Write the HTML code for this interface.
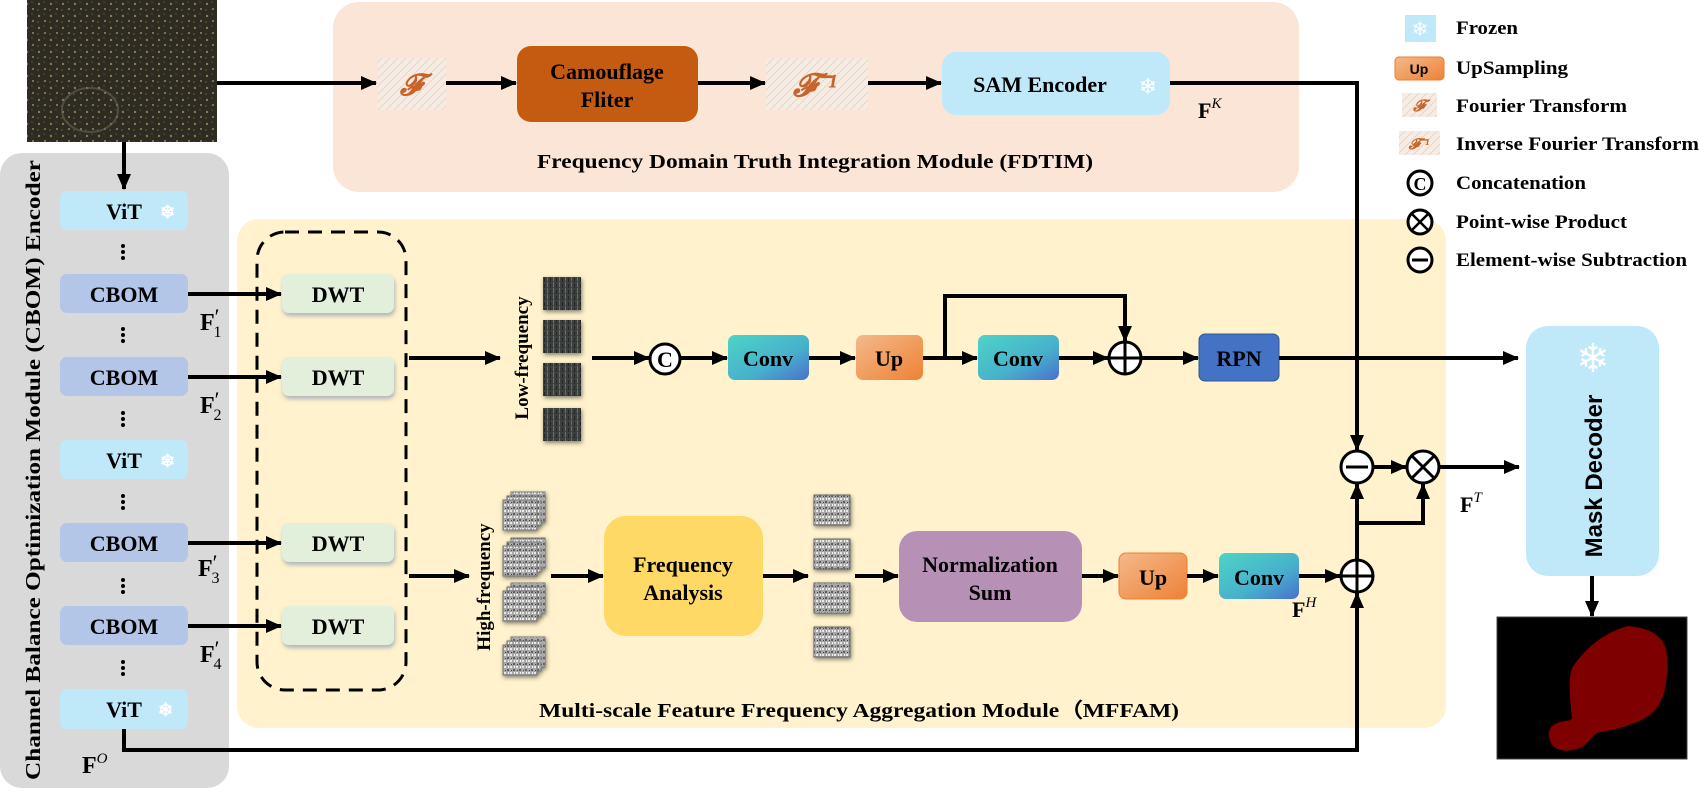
<!DOCTYPE html>
<html><head><meta charset="utf-8"><style>
html,body{margin:0;padding:0;background:#fff;}
svg{display:block;}
text{font-family:"Liberation Serif",serif;font-weight:bold;fill:#000;}
</style></head><body>
<svg width="1700" height="791" viewBox="0 0 1700 791" xmlns="http://www.w3.org/2000/svg">
<defs>
<marker id="ah" markerWidth="16" markerHeight="14" refX="15" refY="7" orient="auto" markerUnits="userSpaceOnUse"><path d="M0,0 L16,7 L0,14 Z" fill="#000"/></marker>
<linearGradient id="gconv" x1="0" y1="0" x2="1" y2="1"><stop offset="0" stop-color="#4dd4c6"/><stop offset="0.6" stop-color="#47b0cc"/><stop offset="1" stop-color="#4a70cc"/></linearGradient>
<linearGradient id="gup" x1="0" y1="0" x2="1" y2="1"><stop offset="0" stop-color="#f4b98a"/><stop offset="1" stop-color="#ee8236"/></linearGradient>
<pattern id="pphoto" width="12" height="12" patternUnits="userSpaceOnUse"><rect width="12" height="12" fill="#2e2b22"/><circle cx="3" cy="4" r="1.2" fill="#8a7a50"/><circle cx="9" cy="9" r="0.9" fill="#b9a66a"/><circle cx="8" cy="2" r="0.7" fill="#5a5540"/><circle cx="2" cy="10" r="0.8" fill="#6b6448"/></pattern>
<pattern id="plow" width="6" height="6" patternUnits="userSpaceOnUse"><rect width="6" height="6" fill="#3b3f3c"/><rect x="1" y="0" width="1" height="5" fill="#6d7060"/><rect x="4" y="2" width="1" height="4" fill="#25282a"/></pattern>
<pattern id="phigh" width="6" height="6" patternUnits="userSpaceOnUse"><rect width="6" height="6" fill="#a8a8a8"/><rect x="0" y="0" width="2" height="2" fill="#e8e8e8"/><rect x="3" y="3" width="2" height="2" fill="#5e5e5e"/><rect x="4" y="0" width="1" height="2" fill="#f2f2f2"/><rect x="1" y="4" width="1" height="1" fill="#444"/></pattern>
<pattern id="ppaper" width="8" height="8" patternUnits="userSpaceOnUse"><rect width="8" height="8" fill="#f6ece4"/><path d="M0,8 L8,0" stroke="#e6d6ca" stroke-width="1"/></pattern>
<filter id="sh" x="-20%" y="-20%" width="140%" height="150%"><feDropShadow dx="1" dy="3" stdDeviation="2" flood-color="#7a8ab0" flood-opacity="0.6"/></filter>
<filter id="sh2" x="-30%" y="-30%" width="160%" height="160%"><feDropShadow dx="1" dy="2" stdDeviation="2" flood-color="#333" flood-opacity="0.6"/></filter>
</defs>

<rect x="333" y="2" width="966" height="190" rx="26" fill="#fbe5d6"/>
<rect x="0" y="153" width="229" height="635" rx="22" fill="#d9d9d9"/>
<rect x="237" y="219" width="1209" height="509" rx="22" fill="#fff2cc"/>

<rect x="27" y="0" width="190" height="142" fill="url(#pphoto)"/>
<ellipse cx="90" cy="110" rx="28" ry="22" fill="none" stroke="#6a6550" stroke-width="2" opacity="0.6"/>

<line x1="217" y1="83" x2="376" y2="83" stroke="#000" stroke-width="4" marker-end="url(#ah)"/>
<rect x="377" y="58" width="69" height="52" fill="url(#ppaper)"/>
<text x="411" y="95" font-size="30" text-anchor="middle" style="fill:#c8642a;font-style:italic">𝓕</text>
<line x1="446" y1="83" x2="516" y2="83" stroke="#000" stroke-width="4" marker-end="url(#ah)"/>
<rect x="517" y="46" width="181" height="76" rx="14" fill="#c55a11"/>
<text x="607" y="79" font-size="22" text-anchor="middle">Camouflage</text>
<text x="607" y="107" font-size="22" text-anchor="middle">Fliter</text>
<line x1="698" y1="83" x2="765" y2="83" stroke="#000" stroke-width="4" marker-end="url(#ah)"/>
<rect x="766" y="58" width="102" height="52" fill="url(#ppaper)"/>
<text x="815" y="96" font-size="32" text-anchor="middle" style="fill:#c8642a;font-style:italic">𝓕⁻¹</text>
<line x1="868" y1="83" x2="941" y2="83" stroke="#000" stroke-width="4" marker-end="url(#ah)"/>
<rect x="942" y="52" width="228" height="63" rx="14" fill="#bfe9f9"/>
<text x="1040" y="92" font-size="22" text-anchor="middle">SAM Encoder</text>
<text x="1148" y="94" font-size="22" text-anchor="middle" style="fill:#fff;font-family:'DejaVu Sans',sans-serif;font-weight:normal">❄</text>
<text x="1198" y="118" font-size="22">F<tspan font-size="15" dy="-10" font-style="italic" font-weight="normal">K</tspan></text>
<text x="815" y="168" font-size="20" text-anchor="middle" textLength="556" lengthAdjust="spacingAndGlyphs">Frequency Domain Truth Integration Module (FDTIM)</text>

<polyline points="1170,83 1357,83 1357,450" fill="none" stroke="#000" stroke-width="4" marker-end="url(#ah)"/>

<line x1="124" y1="142" x2="124" y2="189" stroke="#000" stroke-width="4" marker-end="url(#ah)"/>
<text transform="translate(40,470) rotate(-90)" font-size="21" text-anchor="middle" textLength="620" lengthAdjust="spacingAndGlyphs">Channel Balance Optimization Module (CBOM) Encoder</text>
<g font-size="22">
<rect x="60" y="191" width="128" height="39" rx="7" fill="#bfe9f9"/>
<text x="124" y="219" text-anchor="middle">ViT</text>
<rect x="60" y="274" width="128" height="39" rx="7" fill="#b4c6e7"/>
<text x="124" y="302" text-anchor="middle">CBOM</text>
<rect x="60" y="357" width="128" height="39" rx="7" fill="#b4c6e7"/>
<text x="124" y="385" text-anchor="middle">CBOM</text>
<rect x="60" y="440" width="128" height="39" rx="7" fill="#bfe9f9"/>
<text x="124" y="468" text-anchor="middle">ViT</text>
<rect x="60" y="523" width="128" height="39" rx="7" fill="#b4c6e7"/>
<text x="124" y="551" text-anchor="middle">CBOM</text>
<rect x="60" y="606" width="128" height="39" rx="7" fill="#b4c6e7"/>
<text x="124" y="634" text-anchor="middle">CBOM</text>
<rect x="60" y="689" width="128" height="40" rx="7" fill="#bfe9f9"/>
<text x="124" y="717" text-anchor="middle">ViT</text>
</g>
<g font-size="18" style="fill:#fff;font-family:'DejaVu Sans',sans-serif;font-weight:normal">
<text x="160" y="218" style="fill:#fff">❄</text><text x="160" y="467" style="fill:#fff">❄</text><text x="158" y="716" style="fill:#fff">❄</text>
</g>
<g fill="#000">
<circle cx="123" cy="246" r="2"/><circle cx="123" cy="252" r="2"/><circle cx="123" cy="258" r="2"/>
<circle cx="123" cy="329" r="2"/><circle cx="123" cy="335" r="2"/><circle cx="123" cy="341" r="2"/>
<circle cx="123" cy="413" r="2"/><circle cx="123" cy="419" r="2"/><circle cx="123" cy="425" r="2"/>
<circle cx="123" cy="496" r="2"/><circle cx="123" cy="502" r="2"/><circle cx="123" cy="508" r="2"/>
<circle cx="123" cy="580" r="2"/><circle cx="123" cy="586" r="2"/><circle cx="123" cy="592" r="2"/>
<circle cx="123" cy="662" r="2"/><circle cx="123" cy="668" r="2"/><circle cx="123" cy="674" r="2"/>
</g>
<g font-size="24">
<text x="200" y="330">F<tspan font-weight="normal" font-size="22" dy="-6">′</tspan><tspan font-size="16" font-weight="normal" dx="-6" dy="13">1</tspan></text>
<text x="200" y="413">F<tspan font-weight="normal" font-size="22" dy="-6">′</tspan><tspan font-size="16" font-weight="normal" dx="-6" dy="13">2</tspan></text>
<text x="198" y="576">F<tspan font-weight="normal" font-size="22" dy="-6">′</tspan><tspan font-size="16" font-weight="normal" dx="-6" dy="13">3</tspan></text>
<text x="200" y="662">F<tspan font-weight="normal" font-size="22" dy="-6">′</tspan><tspan font-size="16" font-weight="normal" dx="-6" dy="13">4</tspan></text>
<text x="82" y="773">F<tspan font-size="15" dy="-10" font-style="italic" font-weight="normal">O</tspan></text>
</g>

<g stroke="#000" stroke-width="4" marker-end="url(#ah)">
<line x1="188" y1="294" x2="281" y2="294"/>
<line x1="188" y1="377" x2="281" y2="377"/>
<line x1="188" y1="543" x2="281" y2="543"/>
<line x1="188" y1="626" x2="281" y2="626"/>
</g>
<rect x="257" y="232" width="149" height="458" rx="28" fill="none" stroke="#000" stroke-width="3" stroke-dasharray="14,9"/>
<g font-size="22" filter="url(#sh)">
<rect x="282" y="274" width="112" height="39" rx="7" fill="#e2efda"/>
<rect x="282" y="357" width="112" height="39" rx="7" fill="#e2efda"/>
<rect x="282" y="523" width="112" height="39" rx="7" fill="#e2efda"/>
<rect x="282" y="606" width="112" height="39" rx="7" fill="#e2efda"/>
</g>
<g font-size="22">
<text x="338" y="302" text-anchor="middle">DWT</text>
<text x="338" y="385" text-anchor="middle">DWT</text>
<text x="338" y="551" text-anchor="middle">DWT</text>
<text x="338" y="634" text-anchor="middle">DWT</text>
</g>

<line x1="409" y1="358" x2="500" y2="358" stroke="#000" stroke-width="4" marker-end="url(#ah)"/>
<text transform="translate(528,358) rotate(-90)" font-size="19" text-anchor="middle">Low-frequency</text>
<g filter="url(#sh2)">
<rect x="543" y="277" width="38" height="33" fill="url(#plow)"/>
<rect x="543" y="320" width="38" height="33" fill="url(#plow)"/>
<rect x="543" y="363" width="38" height="33" fill="url(#plow)"/>
<rect x="543" y="408" width="38" height="33" fill="url(#plow)"/>
</g>
<line x1="592" y1="358" x2="649" y2="358" stroke="#000" stroke-width="4" marker-end="url(#ah)"/>
<circle cx="665" cy="359" r="15" fill="#fff" stroke="#000" stroke-width="3"/>
<text x="665" y="367" font-size="22" text-anchor="middle">C</text>
<line x1="680" y1="358" x2="727" y2="358" stroke="#000" stroke-width="4" marker-end="url(#ah)"/>
<rect x="728" y="335" width="81" height="45" rx="7" fill="url(#gconv)"/>
<text x="768" y="366" font-size="22" text-anchor="middle">Conv</text>
<line x1="809" y1="358" x2="855" y2="358" stroke="#000" stroke-width="4" marker-end="url(#ah)"/>
<rect x="856" y="335" width="67" height="45" rx="7" fill="url(#gup)"/>
<text x="889" y="366" font-size="22" text-anchor="middle">Up</text>
<line x1="923" y1="358" x2="977" y2="358" stroke="#000" stroke-width="4" marker-end="url(#ah)"/>
<polyline points="945,358 945,296 1125,296 1125,341" fill="none" stroke="#000" stroke-width="4" marker-end="url(#ah)"/>
<rect x="978" y="335" width="81" height="45" rx="7" fill="url(#gconv)"/>
<text x="1018" y="366" font-size="22" text-anchor="middle">Conv</text>
<line x1="1059" y1="358" x2="1108" y2="358" stroke="#000" stroke-width="4" marker-end="url(#ah)"/>
<circle cx="1125" cy="358" r="16" fill="#fff" stroke="#000" stroke-width="3"/>
<path d="M1109,358 H1141 M1125,342 V374" stroke="#000" stroke-width="3"/>
<line x1="1141" y1="358" x2="1198" y2="358" stroke="#000" stroke-width="4" marker-end="url(#ah)"/>
<rect x="1199" y="334" width="80" height="47" rx="6" fill="#4472c4" stroke="#2f5597" stroke-width="1"/>
<text x="1239" y="366" font-size="22" text-anchor="middle">RPN</text>
<line x1="1279" y1="358" x2="1518" y2="358" stroke="#000" stroke-width="4" marker-end="url(#ah)"/>

<line x1="409" y1="576" x2="469" y2="576" stroke="#000" stroke-width="4" marker-end="url(#ah)"/>
<text transform="translate(490,587) rotate(-90)" font-size="19" text-anchor="middle">High-frequency</text>
<g filter="url(#sh2)">
<rect x="511" y="492" width="34" height="30" fill="url(#phigh)" stroke="#777"/>
<rect x="507" y="496" width="34" height="30" fill="url(#phigh)" stroke="#777"/>
<rect x="503" y="500" width="34" height="30" fill="url(#phigh)" stroke="#777"/>
<rect x="511" y="538" width="34" height="30" fill="url(#phigh)" stroke="#777"/>
<rect x="507" y="542" width="34" height="30" fill="url(#phigh)" stroke="#777"/>
<rect x="503" y="546" width="34" height="30" fill="url(#phigh)" stroke="#777"/>
<rect x="511" y="583" width="34" height="30" fill="url(#phigh)" stroke="#777"/>
<rect x="507" y="587" width="34" height="30" fill="url(#phigh)" stroke="#777"/>
<rect x="503" y="591" width="34" height="30" fill="url(#phigh)" stroke="#777"/>
<rect x="511" y="637" width="34" height="30" fill="url(#phigh)" stroke="#777"/>
<rect x="507" y="641" width="34" height="30" fill="url(#phigh)" stroke="#777"/>
<rect x="503" y="645" width="34" height="30" fill="url(#phigh)" stroke="#777"/>
</g>
<line x1="551" y1="576" x2="603" y2="576" stroke="#000" stroke-width="4" marker-end="url(#ah)"/>
<rect x="604" y="516" width="159" height="120" rx="22" fill="#ffd966"/>
<text x="683" y="572" font-size="22" text-anchor="middle">Frequency</text>
<text x="683" y="600" font-size="22" text-anchor="middle">Analysis</text>
<line x1="763" y1="576" x2="808" y2="576" stroke="#000" stroke-width="4" marker-end="url(#ah)"/>
<g filter="url(#sh2)">
<rect x="814" y="495" width="36" height="30" fill="url(#phigh)" stroke="#666"/>
<rect x="814" y="539" width="36" height="30" fill="url(#phigh)" stroke="#666"/>
<rect x="814" y="583" width="36" height="30" fill="url(#phigh)" stroke="#666"/>
<rect x="814" y="627" width="36" height="30" fill="url(#phigh)" stroke="#666"/>
</g>
<line x1="855" y1="576" x2="898" y2="576" stroke="#000" stroke-width="4" marker-end="url(#ah)"/>
<rect x="899" y="531" width="183" height="91" rx="18" fill="#b790b6"/>
<text x="990" y="572" font-size="22" text-anchor="middle">Normalization</text>
<text x="990" y="600" font-size="22" text-anchor="middle">Sum</text>
<line x1="1082" y1="576" x2="1118" y2="576" stroke="#000" stroke-width="4" marker-end="url(#ah)"/>
<rect x="1119" y="553" width="68" height="46" rx="7" fill="url(#gup)" stroke="#ed7d31" stroke-width="1"/>
<text x="1153" y="585" font-size="22" text-anchor="middle">Up</text>
<line x1="1187" y1="576" x2="1218" y2="576" stroke="#000" stroke-width="4" marker-end="url(#ah)"/>
<rect x="1219" y="553" width="80" height="46" rx="7" fill="url(#gconv)"/>
<text x="1259" y="585" font-size="22" text-anchor="middle">Conv</text>
<line x1="1299" y1="576" x2="1340" y2="576" stroke="#000" stroke-width="4" marker-end="url(#ah)"/>
<text x="1292" y="617" font-size="22">F<tspan font-size="15" dy="-10" font-style="italic" font-weight="normal">H</tspan></text>
<text x="859" y="717" font-size="20" text-anchor="middle" textLength="640" lengthAdjust="spacingAndGlyphs">Multi-scale Feature Frequency Aggregation Module（MFFAM)</text>

<polyline points="124,729 124,750 1357,750 1357,593" fill="none" stroke="#000" stroke-width="4" marker-end="url(#ah)"/>

<line x1="1357" y1="560" x2="1357" y2="484" stroke="#000" stroke-width="4" marker-end="url(#ah)"/>
<polyline points="1357,523 1423,523 1423,484" fill="none" stroke="#000" stroke-width="4" marker-end="url(#ah)"/>
<circle cx="1357" cy="576" r="16" fill="#fff" stroke="#000" stroke-width="3"/>
<path d="M1341,576 H1373 M1357,560 V592" stroke="#000" stroke-width="3"/>
<circle cx="1357" cy="467" r="16" fill="#fff" stroke="#000" stroke-width="3"/>
<path d="M1346,467 H1368" stroke="#000" stroke-width="3"/>
<line x1="1373" y1="467" x2="1406" y2="467" stroke="#000" stroke-width="4" marker-end="url(#ah)"/>
<circle cx="1423" cy="467" r="16" fill="#fff" stroke="#000" stroke-width="3"/>
<path d="M1412,456 L1434,478 M1434,456 L1412,478" stroke="#000" stroke-width="3"/>
<line x1="1439" y1="467" x2="1519" y2="467" stroke="#000" stroke-width="4" marker-end="url(#ah)"/>
<text x="1460" y="512" font-size="22">F<tspan font-size="15" dy="-10" font-style="italic" font-weight="normal">T</tspan></text>

<rect x="1526" y="326" width="133" height="250" rx="22" fill="#bfe9f9"/>
<text x="1593" y="372" font-size="40" text-anchor="middle" style="fill:#fff;font-family:'DejaVu Sans',sans-serif;font-weight:normal">❄</text>
<text transform="translate(1602,476) rotate(-90)" font-size="24" text-anchor="middle" style="font-family:'Liberation Sans',sans-serif;font-weight:bold">Mask Decoder</text>
<line x1="1592" y1="576" x2="1592" y2="616" stroke="#000" stroke-width="4" marker-end="url(#ah)"/>
<rect x="1497" y="617" width="190" height="142" fill="#000" stroke="#444" stroke-width="1"/>
<path d="M1628,626 C1650,628 1668,636 1667,660 C1668,690 1662,705 1650,715 C1635,725 1615,730 1600,732 C1592,734 1588,745 1580,748 C1570,752 1558,752 1552,745 C1546,735 1548,725 1560,722 C1566,720 1570,722 1572,718 C1570,700 1568,680 1572,668 C1585,648 1605,632 1628,626 Z" fill="#7f0000"/>

<rect x="1405" y="15" width="31" height="27" fill="#bfe9f9"/>
<text x="1420" y="36" font-size="20" text-anchor="middle" style="fill:#fff;font-family:'DejaVu Sans',sans-serif;font-weight:normal">❄</text>
<rect x="1395" y="57" width="49" height="23" rx="4" fill="url(#gup)" stroke="#ed7d31"/>
<text x="1419" y="74" font-size="14" text-anchor="middle" style="font-family:'Liberation Sans',sans-serif">Up</text>
<rect x="1402" y="93" width="35" height="24" fill="url(#ppaper)"/>
<text x="1419" y="111" font-size="16" text-anchor="middle" style="fill:#c8642a;font-style:italic">𝓕</text>
<rect x="1399" y="131" width="41" height="24" fill="url(#ppaper)"/>
<text x="1419" y="149" font-size="15" text-anchor="middle" style="fill:#c8642a;font-style:italic">𝓕⁻¹</text>
<circle cx="1420" cy="183" r="12" fill="#fff" stroke="#000" stroke-width="3"/>
<text x="1420" y="190" font-size="18" text-anchor="middle">C</text>
<circle cx="1420" cy="222" r="12" fill="#fff" stroke="#000" stroke-width="3"/>
<path d="M1412,214 L1428,230 M1428,214 L1412,230" stroke="#000" stroke-width="2.5"/>
<circle cx="1420" cy="260" r="12" fill="#fff" stroke="#000" stroke-width="3"/>
<path d="M1412,260 H1428" stroke="#000" stroke-width="3"/>
<g font-size="19">
<text x="1456" y="34" textLength="62" lengthAdjust="spacingAndGlyphs">Frozen</text>
<text x="1456" y="74" textLength="112" lengthAdjust="spacingAndGlyphs">UpSampling</text>
<text x="1456" y="112" textLength="171" lengthAdjust="spacingAndGlyphs">Fourier Transform</text>
<text x="1456" y="150" textLength="243" lengthAdjust="spacingAndGlyphs">Inverse Fourier Transform</text>
<text x="1456" y="189" textLength="130" lengthAdjust="spacingAndGlyphs">Concatenation</text>
<text x="1456" y="228" textLength="171" lengthAdjust="spacingAndGlyphs">Point-wise Product</text>
<text x="1456" y="266" textLength="231" lengthAdjust="spacingAndGlyphs">Element-wise Subtraction</text>
</g>
</svg>
</body></html>
